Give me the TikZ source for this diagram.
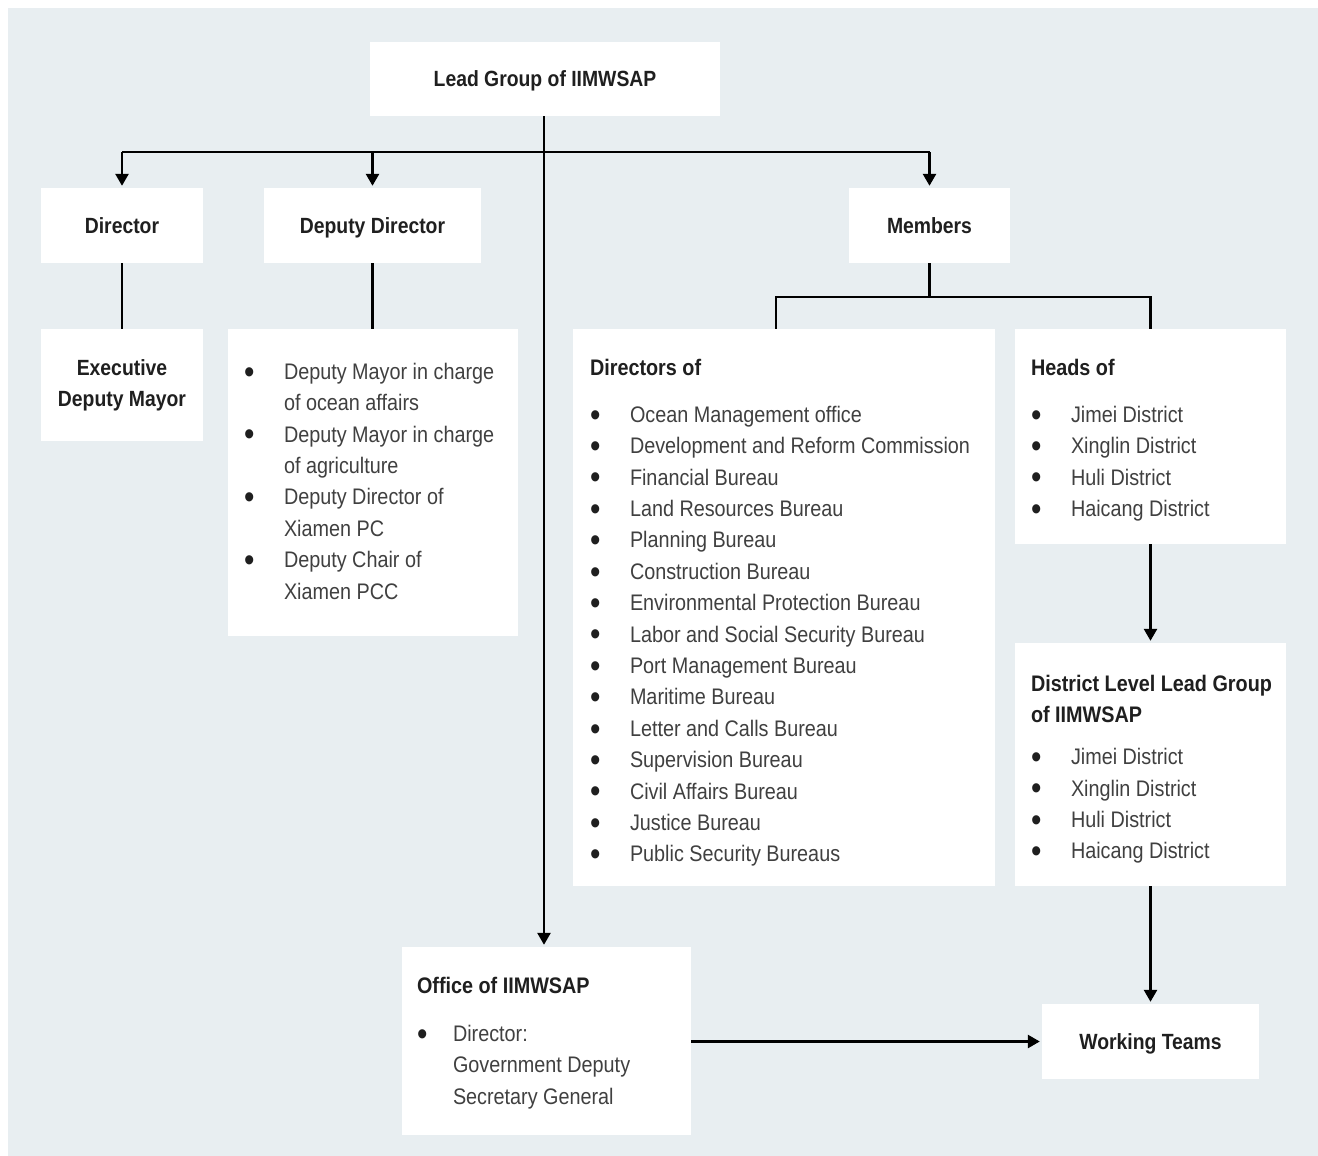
\documentclass[tikz,border=0pt]{standalone}
\usepackage{fontspec}
\setmainfont{Liberation Sans}[FakeStretch=0.88]
\usetikzlibrary{arrows.meta}
\definecolor{bgc}{HTML}{E8EEF1}
\definecolor{ink}{HTML}{1F1F1F}
\definecolor{txt}{HTML}{404040}
\newcommand{\bul}[1][40pt]{\makebox[#1][l]{\raisebox{-3.7pt}{\color{ink}\scalebox{1.5}{\textbullet}}}}
\newcommand{\cont}[1][40pt]{\hspace*{#1}}
\newcommand{\hdr}[1]{{\bfseries\color{ink}#1}}

\begin{document}
\begin{tikzpicture}[x=1pt,y=-1pt,
  box/.style={fill=white, inner sep=0pt},
  hd/.style={font=\fontsize{22}{31}\selectfont\bfseries, text=ink},
  one/.style={hd, text height=16pt, text depth=0.2pt},
  lst/.style={font=\fontsize{22.5}{31.4}\selectfont, text=txt, align=left,
    inner sep=0pt, anchor=north west},
  line/.style={line width=2.6pt, draw=black},
  arr/.style={line, -{Triangle[width=13pt,length=12pt]}, shorten >=2pt}]
  % Background
  \useasboundingbox (0,0) rectangle (1318,1156);
  \fill[bgc] (8,8) rectangle (1318,1156);

  % Top level
  \node[box, one, minimum width=350pt, minimum height=74pt] (lead) at (545,79) {Lead Group of IIMWSAP};

  % Second level
  \node[box, one, minimum width=162pt, minimum height=75pt] (director) at (122,225.5) {Director};
  \node[box, one, minimum width=217pt, minimum height=75pt] (deputy) at (372.5,225.5) {Deputy Director};
  \node[box, one, minimum width=161pt, minimum height=75pt] (members) at (929.5,225.5) {Members};

  % Third level
  \node[box, hd, align=center, minimum width=162pt, minimum height=112pt] (exec) at (122,385) {Executive\\Deputy Mayor};
  \node[box, minimum width=290pt, minimum height=307pt] (deplist) at (373,482.5) {};
  \node[box, minimum width=422pt, minimum height=557pt] (dirs) at (784,607.5) {};
  \node[box, minimum width=271pt, minimum height=215pt] (heads) at (1150.5,436.5) {};
  \node[box, minimum width=271pt, minimum height=243pt] (district) at (1150.5,764.5) {};

  % Bottom level
  \node[box, minimum width=289pt, minimum height=188pt] (office) at (546.5,1041) {};
  \node[box, one, minimum width=217pt, minimum height=75pt] (teams) at (1150.5,1041.5) {Working Teams};

  % Box texts
  \node[lst] (deplisttxt) at ([shift={(16,34)}]deplist.north west) {
    \bul Deputy Mayor in charge\\ \cont of ocean affairs\\
    \bul Deputy Mayor in charge\\ \cont of agriculture\\
    \bul Deputy Director of\\ \cont Xiamen PC\\
    \bul Deputy Chair of\\ \cont Xiamen PCC};
  \node[lst] (dirstxt) at ([shift={(17,30)}]dirs.north west) {
    \hdr{Directors of}\\[15.6pt]
    \bul Ocean Management office\\
    \bul Development and Reform Commission\\
    \bul Financial Bureau\\
    \bul Land Resources Bureau\\
    \bul Planning Bureau\\
    \bul Construction Bureau\\
    \bul Environmental Protection Bureau\\
    \bul Labor and Social Security Bureau\\
    \bul Port Management Bureau\\
    \bul Maritime Bureau\\
    \bul Letter and Calls Bureau\\
    \bul Supervision Bureau\\
    \bul Civil Affairs Bureau\\
    \bul Justice Bureau\\
    \bul Public Security Bureaus};
  \node[lst] (headstxt) at ([shift={(16,30)}]heads.north west) {
    \hdr{Heads of}\\[15.6pt]
    \bul Jimei District\\
    \bul Xinglin District\\
    \bul Huli District\\
    \bul Haicang District};
  \node[lst] (districttxt) at ([shift={(16,32)}]district.north west) {
    \hdr{District Level Lead Group}\\
    \hdr{of IIMWSAP}\\[10.6pt]
    \bul Jimei District\\
    \bul Xinglin District\\
    \bul Huli District\\
    \bul Haicang District};
  \node[lst] (officetxt) at ([shift={(15,30)}]office.north west) {
    \hdr{Office of IIMWSAP}\\[16.6pt]
    \bul[36pt]Director:\\
    \cont[36pt]Government Deputy\\
    \cont[36pt]Secretary General};

  % Connectors
  \coordinate (bus) at (0,152);
  \coordinate (mbus) at (0,297);
  \draw[line] (director.north |- bus) -- (members.north |- bus);
  \draw[arr] (director.north |- bus) -- (director.north);
  \draw[arr] (deputy.north |- bus) -- (deputy.north);
  \draw[arr] (members.north |- bus) -- (members.north);
  \draw[arr] ([xshift=-1pt]lead.south) -- ([xshift=-1pt]lead.south |- office.north);
  \draw[line] (director.south) -- (exec.north);
  \draw[line] (deputy.south) -- (deputy.south |- deplist.north);
  \draw[line] (members.south) -- (members.south |- mbus);
  \draw[line] ([xshift=-8pt]dirs.north) |- (mbus -| heads.north) -- (heads.north);
  \draw[arr] (heads.south) -- (district.north);
  \draw[arr] (district.south) -- (teams.north);
  \draw[arr] (office.east |- teams.west) -- (teams.west);
\end{tikzpicture}
\end{document}
